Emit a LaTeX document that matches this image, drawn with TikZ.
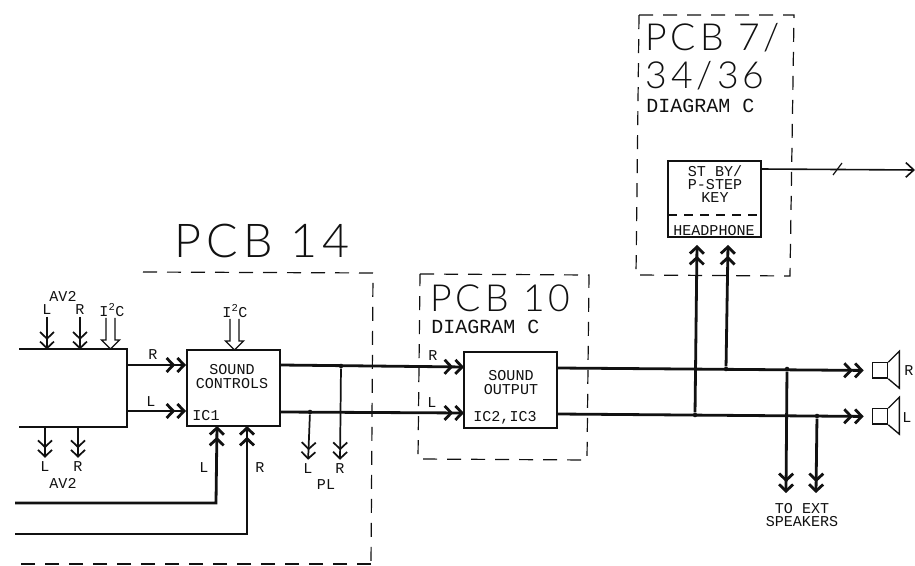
\documentclass[tikz,border=0pt]{standalone}
\usepackage{fontspec}
\setmainfont{Liberation Mono}
\newfontfamily\thinfont[LetterSpace=11]{Lato Light}
\usetikzlibrary{arrows.meta,positioning}
\definecolor{Ink}{HTML}{111111}
\tikzset{
  block/.style={
    draw=Ink, line width=1.5pt, fill=white, inner sep=0pt,
    minimum width=69.75pt, minimum height=57.5pt
  },
  group/.style={draw=Ink, line width=0.9pt, dash pattern=on 10.5pt off 7.5pt},
  tag/.style={font=\fontsize{11.3}{10}\selectfont, text=Ink, inner sep=1pt, align=center},
  midtag/.style={font=\fontsize{15}{17}\selectfont, text=Ink, inner sep=0pt, anchor=west},
  bigtag/.style={font=\thinfont\fontsize{28}{34}\selectfont, text=Ink, inner sep=0pt, anchor=west},
  dot/.style={circle, fill=Ink, inner sep=0pt, minimum size=3.4pt},
  barbs/.style={-{Straight Barb[length=5pt,width=10.5pt,sep=0.6pt]Straight Barb[length=5pt,width=10.5pt]}},
  flow/.style={barbs, line width=2.1pt, draw=Ink},
  softflow/.style={barbs, line width=1.3pt, draw=Ink},
  wire/.style={line width=2.1pt, draw=Ink, line join=miter},
  busarrow/.pic={
    \draw[draw=Ink, line width=1pt, line join=miter]
      (-4.5,-31) -- (-4.5,-9) -- (-9,-9) -- (0,0) -- (9,-9) -- (4.5,-9) -- (4.5,-31);
  }
}
\begin{document}
\begin{tikzpicture}[x=0.75pt,y=-0.75pt]
  \useasboundingbox (0,0) rectangle (915,566);
  % dashed board outlines
  \draw[group] (143,272) -- (373,273) -- (371,566);
  \draw[group] (371,564) -- (15,564);
  \draw[group] (420,274) -- (589,275) -- (587,460) -- (418,459) -- cycle;
  \draw[group] (639,15) -- (794,15) -- (790,276) -- (636,275) -- cycle;
  \node[font=\thinfont\fontsize{35}{40}\selectfont, text=Ink, inner sep=0pt] (title14) at (262,241) {PCB 14};
  \node[bigtag] (title10) at (430,298) {PCB 10};
  \node[midtag] (diag10) at (431,327) {DIAGRAM C};
  \node[bigtag] (title7) at (645,38) {PCB 7/};
  \node[bigtag] (title34) at (645,76) {34/36};
  \node[midtag] (diag7) at (646,106) {DIAGRAM C};
  % blocks
  \node[minimum width=80.25pt, minimum height=57.5pt, inner sep=0pt] (mux) at (73,388) {};
  \draw[wire, line width=1.5pt] (mux.north west) -- (mux.north east) -- (mux.south east) -- (mux.south west);
  \node[block] (controls) at (233.5,388) {};
  \node[block,right=136.5pt of controls,yshift=-1.5pt] (output) {};
  \node[block] (key) at (714,199) {};
  \draw[draw=Ink, line width=0.9pt, dash pattern=on 7pt off 5pt] (668,215) -- (760,215);
  \node[tag] (ctrltext) at (232,376.5) {SOUND\\CONTROLS};
  \node[tag] (ic1) at (206,416) {IC1};
  \node[tag] (outtext) at (511,382.5) {SOUND\\OUTPUT};
  \node[tag] (ic23) at (505,418) {IC2,IC3};
  \node[tag] (keytext) at (715,184) {ST BY/\\P-STEP\\KEY};
  \node[tag] (phones) at (714,231) {HEADPHONE};
  % inputs on the left
  \node[tag] (av2top) at (63,296) {AV2};
  \node[tag] (topL) at (47,310) {L};
  \node[tag] (topR) at (80,310) {R};
  \node[tag] (busA) at (112,310) {I\textsuperscript{2}C};
  \node[tag] (busB) at (235,311) {I\textsuperscript{2}C};
  \draw[softflow] (topL.south) -- (topL.south |- mux.north);
  \draw[softflow] (topR.south) -- (topR.south |- mux.north);
  \pic at (110.5,349) {busarrow};
  \pic at (234.5,350) {busarrow};
  \node[tag] (lowL) at (45,467) {L};
  \node[tag] (lowR) at (78,467) {R};
  \node[tag] (av2low) at (63,483) {AV2};
  \draw[softflow,shorten >=2pt] (mux.south -| lowL) -- (lowL.north);
  \draw[softflow,shorten >=2pt] (mux.south -| lowR) -- (lowR.north);
  % mux to sound controls
  \coordinate (muxR) at (127,365);
  \coordinate (muxL) at (127,411);
  \draw[flow] (muxR) -- (muxR -| controls.west);
  \draw[flow] (muxL) -- (muxL -| controls.west);
  \node[tag] (tagR) at (153,355) {R};
  \node[tag] (tagL) at (151,402) {L};
  % lower feeds
  \coordinate (feedL) at (15,503);
  \coordinate (feedR) at (15,534);
  \coordinate (feedLc) at (217,426);
  \coordinate (feedRc) at (247,426);
  \draw[flow] (feedL) -- (216,503) -- (feedLc);
  \draw[flow] (feedR) -- (247,534) -- (feedRc);
  \node[tag] (feedLtag) at (204,468) {L};
  \node[tag] (feedRtag) at (260,468) {R};
  % sound controls to sound output
  \draw[flow] (280,365) -- (464,367);
  \draw[flow] (280,412) -- (464,413);
  \node[tag] (inR) at (433,356) {R};
  \node[tag] (inL) at (432,403) {L};
  \node[dot] (plR) at (341,366) {};
  \node[dot] (plL) at (310,412) {};
  \node[tag] (plRtag) at (340,469) {R};
  \node[tag] (plLtag) at (308,469) {L};
  \node[tag] (pltag) at (326,485) {PL};
  \draw[softflow,shorten >=2pt] (plR) -- (plRtag.north);
  \draw[softflow,shorten >=2pt] (plL) -- (plLtag.north);
  % loudspeakers
  \node[draw=Ink, line width=1pt, minimum width=11.5pt, minimum height=11.5pt, inner sep=0pt] (spkR) at (880,370.5) {};
  \node[draw=Ink, line width=1pt, minimum width=11.5pt, minimum height=11.5pt, inner sep=0pt] (spkL) at (880,416.5) {};
  \draw[draw=Ink, line width=1pt, line join=miter] (spkR.north east) -- ++(11,-11) -- ++(0,37) -- (spkR.south east);
  \draw[draw=Ink, line width=1pt, line join=miter] (spkL.north east) -- ++(11,-11) -- ++(0,37) -- (spkL.south east);
  \node[tag] (spkRtag) at (909,371) {R};
  \node[tag] (spkLtag) at (907,418) {L};
  % output lines
  \draw[flow,shorten >=6pt] (557,368) -- (spkR.west);
  \draw[flow,shorten >=6pt] (557,414) -- (spkL.west);
  \node[dot] (jointH) at (695,415) {};
  \node[dot] (jointI) at (726,369) {};
  \node[dot] (jointE) at (787,369) {};
  \node[dot] (jointF) at (817,416) {};
  \draw[flow] (jointH) -- (697,245);
  \draw[flow] (jointI) -- (728,245);
  \node[tag] (exttext) at (802,515) {TO EXT\\SPEAKERS};
  \coordinate (extA) at (786,493);
  \coordinate (extB) at (816,493);
  \draw[flow] (jointE) -- (extA);
  \draw[flow] (jointF) -- (extB);
  % key output
  \coordinate (keyend) at (915,170);
  \draw[draw=Ink, line width=1.2pt, -{Straight Barb[length=6pt,width=11pt]}] (760,169) -- (keyend);
  \coordinate (slashA) at (833,175);
  \coordinate (slashB) at (842,163);
  \draw[draw=Ink, line width=0.9pt] (slashA) -- (slashB);
\end{tikzpicture}
\end{document}
